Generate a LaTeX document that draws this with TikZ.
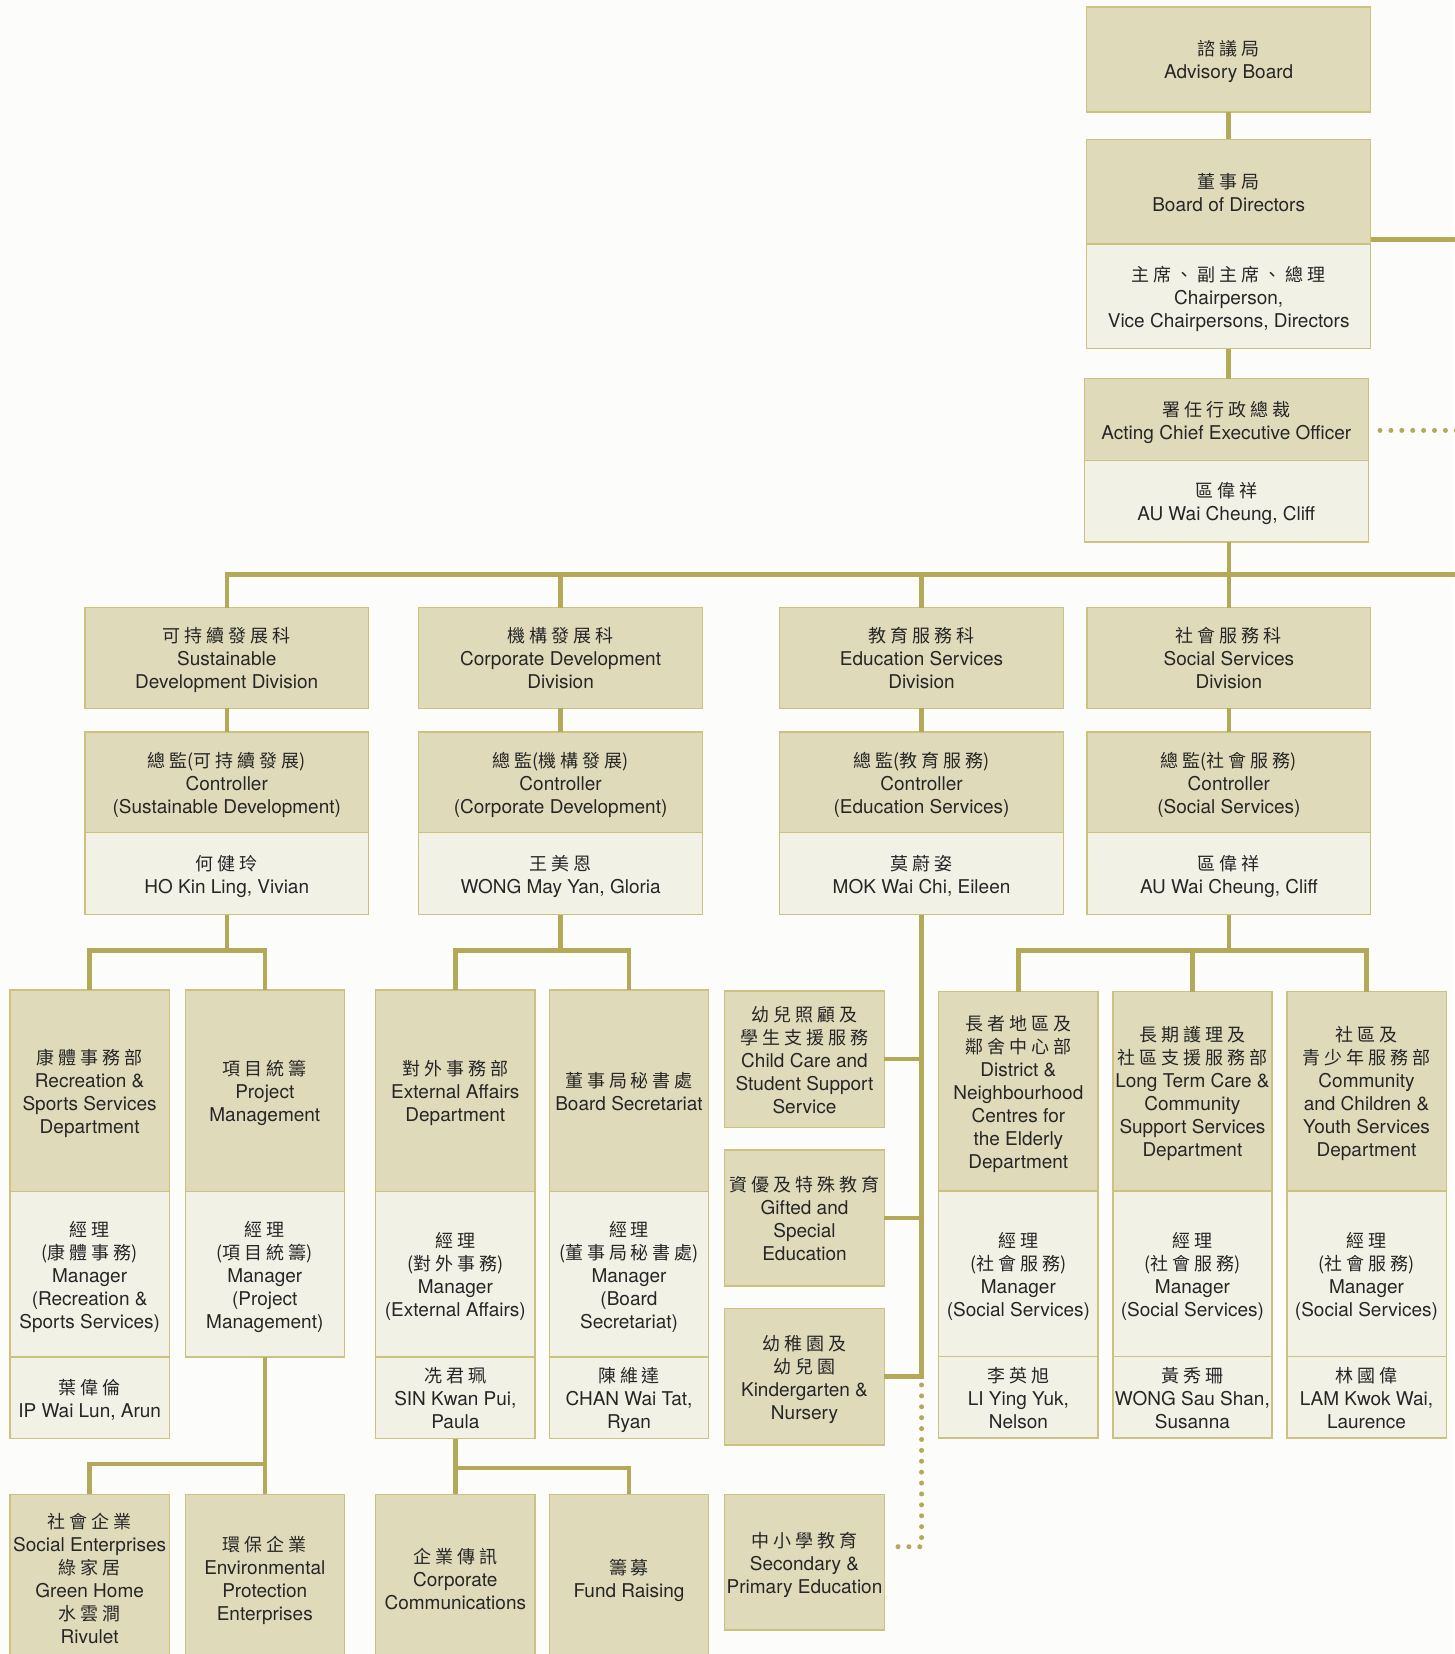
\documentclass[tikz,border=0pt]{standalone}
\usepackage{fontspec}
\setmainfont{TeX Gyre Heros}
\newfontfamily\cjkfam[LetterSpace=22]{Noto Sans CJK TC}
\newfontfamily\cjkplain{Noto Sans CJK TC}
\newcommand\ch[1]{{\cjkfam\fontsize{18}{23}\selectfont #1}}
\newcommand\chp[1]{{\cjkplain\fontsize{18}{23}\selectfont(\ch{#1})}}
\newcommand\enfont{\fontsize{19}{23}\selectfont}
\newcommand\tb[1]{\raisebox{-3.4pt}[\height][\depth]{\begin{tabular}{@{}c@{}}#1\end{tabular}}}
\definecolor{dkfill}{HTML}{DFDBBA}
\definecolor{ltfill}{HTML}{F2F1E6}
\definecolor{bord}{HTML}{CCC280}
\definecolor{linecol}{HTML}{B4A958}
\definecolor{txt}{HTML}{262626}
\definecolor{bgcol}{HTML}{FCFCFA}
\tikzset{
  bx/.style n args={2}{draw=bord, line width=1.4pt, inner sep=0pt, outer sep=0pt,
    anchor=north west, font=\enfont, text=txt,
    minimum width=#1, minimum height=#2},
  dk/.style 2 args={bx={#1}{#2}, fill=dkfill},
  lt/.style 2 args={bx={#1}{#2}, fill=ltfill},
  lnk/.style={draw=linecol, line width=4.5pt},
  dots/.style={draw=linecol, line width=5pt, line cap=round, dash pattern=on 0pt off 10.9pt},
}
\begin{document}
\begin{tikzpicture}[x=1pt,y=-1pt]
\fill[bgcol] (0,0) rectangle (1454,1654);
\useasboundingbox (0,0) rectangle (1454,1654);

% top chain
\node[dk={284pt}{104.7pt}] (adv) at (1086.7,7.1) {\tb{\ch{諮議局}\\Advisory Board}};
\node[dk={284pt}{104.6pt}] (bod) at (1086.7,139.3) {\tb{\ch{董事局}\\Board of Directors}};
\node[lt={284pt}{104.7pt}] (bodp) at (1086.7,243.9) {\tb{\ch{主席、副主席、總理}\\Chairperson,\\Vice Chairpersons, Directors}};
\node[dk={284pt}{82.1pt}] (aceo) at (1084.3,378.6) {\tb{\ch{署任行政總裁}\\Acting Chief Executive Officer}};
\node[lt={284pt}{81.4pt}] (aceon) at (1084.3,460.7) {\tb{\ch{區偉祥}\\AU Wai Cheung, Cliff}};

% divisions
\node[dk={283.5pt}{100.8pt}] (sd) at (85,607.5) {\tb{\ch{可持續發展科}\\Sustainable\\Development Division}};
\node[dk={283.5pt}{100.7pt}] (sdc) at (85,732) {\tb{\ch{總監}\chp{可持續發展}\\Controller\\(Sustainable Development)}};
\node[lt={283.5pt}{81.8pt}] (sdn) at (85,832.7) {\tb{\ch{何健玲}\\HO Kin Ling, Vivian}};

\node[dk={283.8pt}{100.8pt}] (cd) at (418.7,607.5) {\tb{\ch{機構發展科}\\Corporate Development\\Division}};
\node[dk={283.8pt}{100.7pt}] (cdc) at (418.7,732) {\tb{\ch{總監}\chp{機構發展}\\Controller\\(Corporate Development)}};
\node[lt={283.8pt}{81.8pt}] (cdn) at (418.7,832.7) {\tb{\ch{王美恩}\\WONG May Yan, Gloria}};

\node[dk={284.1pt}{100.8pt}] (ed) at (779.5,607.5) {\tb{\ch{教育服務科}\\Education Services\\Division}};
\node[dk={284.1pt}{100.7pt}] (edc) at (779.5,732) {\tb{\ch{總監}\chp{教育服務}\\Controller\\(Education Services)}};
\node[lt={284.1pt}{81.8pt}] (edn) at (779.5,832.7) {\tb{\ch{莫蔚姿}\\MOK Wai Chi, Eileen}};

\node[dk={283.7pt}{100.8pt}] (ss) at (1087,607.5) {\tb{\ch{社會服務科}\\Social Services\\Division}};
\node[dk={283.7pt}{100.7pt}] (ssc) at (1087,732) {\tb{\ch{總監}\chp{社會服務}\\Controller\\(Social Services)}};
\node[lt={283.7pt}{81.8pt}] (ssn) at (1087,832.7) {\tb{\ch{區偉祥}\\AU Wai Cheung, Cliff}};

% departments, left
\node[dk={159.3pt}{201.5pt}] (rec) at (10,990) {\tb{\ch{康體事務部}\\Recreation \&\\Sports Services\\Department}};
\node[lt={159.3pt}{165.5pt}] (recm) at (10,1191.5) {\tb{\ch{經理}\\\chp{康體事務}\\Manager\\(Recreation \&\\Sports Services)}};
\node[lt={159.3pt}{81.5pt}] (recn) at (10,1357) {\tb{\ch{葉偉倫}\\IP Wai Lun, Arun}};

\node[dk={159pt}{201.5pt}] (proj) at (185.3,990) {\tb{\ch{項目統籌}\\Project\\Management}};
\node[lt={159pt}{165.5pt}] (projm) at (185.3,1191.5) {\tb{\ch{經理}\\\chp{項目統籌}\\Manager\\(Project\\Management)}};

\node[dk={159.3pt}{201.5pt}] (ext) at (375.7,990) {\tb{\ch{對外事務部}\\External Affairs\\Department}};
\node[lt={159.3pt}{165.5pt}] (extm) at (375.7,1191.5) {\tb{\ch{經理}\\\chp{對外事務}\\Manager\\(External Affairs)}};
\node[lt={159.3pt}{81.5pt}] (extn) at (375.7,1357) {\tb{\ch{冼君珮}\\SIN Kwan Pui,\\Paula}};

\node[dk={159.4pt}{201.5pt}] (bsec) at (549.3,990) {\tb{\ch{董事局秘書處}\\Board Secretariat}};
\node[lt={159.4pt}{165.5pt}] (bsecm) at (549.3,1191.5) {\tb{\ch{經理}\\\chp{董事局秘書處}\\Manager\\(Board\\Secretariat)}};
\node[lt={159.4pt}{81.5pt}] (bsecn) at (549.3,1357) {\tb{\ch{陳維達}\\CHAN Wai Tat,\\Ryan}};

% education services
\node[dk={159.6pt}{136.3pt}] (cc) at (724.7,991) {\tb{\ch{幼兒照顧及}\\\ch{學生支援服務}\\Child Care and\\Student Support\\Service}};
\node[dk={159.6pt}{136pt}] (gift) at (724.7,1150) {\tb{\ch{資優及特殊教育}\\Gifted and\\Special\\Education}};
\node[dk={159.6pt}{136.7pt}] (kg) at (724.7,1308.3) {\tb{\ch{幼稚園及}\\\ch{幼兒園}\\Kindergarten \&\\Nursery}};
\node[dk={159.6pt}{135.7pt}] (sec) at (724.7,1494.3) {\tb{\ch{中小學教育}\\Secondary \&\\Primary Education}};

% social services departments
\node[dk={159.3pt}{199.5pt}] (dist) at (938.7,991.5) {\tb{\ch{長者地區及}\\\ch{鄰舍中心部}\\District \&\\Neighbourhood\\Centres for\\the Elderly\\Department}};
\node[lt={159.3pt}{165.5pt}] (distm) at (938.7,1191) {\tb{\ch{經理}\\\chp{社會服務}\\Manager\\(Social Services)}};
\node[lt={159.3pt}{81.5pt}] (distn) at (938.7,1356.5) {\tb{\ch{李英旭}\\LI Ying Yuk,\\Nelson}};

\node[dk={158.8pt}{199.5pt}] (ltc) at (1113,991.5) {\tb{\ch{長期護理及}\\\ch{社區支援服務部}\\Long Term Care \&\\Community\\Support Services\\Department}};
\node[lt={158.8pt}{165.5pt}] (ltcm) at (1113,1191) {\tb{\ch{經理}\\\chp{社會服務}\\Manager\\(Social Services)}};
\node[lt={158.8pt}{81.5pt}] (ltcn) at (1113,1356.5) {\tb{\ch{黃秀珊}\\WONG Sau Shan,\\Susanna}};

\node[dk={159.4pt}{199.5pt}] (comm) at (1286.8,991.5) {\tb{\ch{社區及}\\\ch{青少年服務部}\\Community\\and Children \&\\Youth Services\\Department}};
\node[lt={159.4pt}{165.5pt}] (commm) at (1286.8,1191) {\tb{\ch{經理}\\\chp{社會服務}\\Manager\\(Social Services)}};
\node[lt={159.4pt}{81.5pt}] (commn) at (1286.8,1356.5) {\tb{\ch{林國偉}\\LAM Kwok Wai,\\Laurence}};

% bottom row
\node[dk={159.3pt}{167.7pt}] (se) at (10,1494.3) {\tb{\ch{社會企業}\\Social Enterprises\\\ch{綠家居}\\Green Home\\\ch{水雲澗}\\Rivulet}};
\node[dk={159pt}{167.7pt}] (env) at (185.3,1494.3) {\tb{\ch{環保企業}\\Environmental\\Protection\\Enterprises}};
\node[dk={159.3pt}{167.7pt}] (ccom) at (375.7,1494.3) {\tb{\ch{企業傳訊}\\Corporate\\Communications}};
\node[dk={159.4pt}{167.7pt}] (fund) at (549.3,1494.3) {\tb{\ch{籌募}\\Fund Raising}};

% connectors
\coordinate (busE) at (1460,574.3);
\coordinate (bodE) at (1460,239.3);
\coordinate (aceoE) at (1460,430.4);
\coordinate (b1) at (0,950.5);
\coordinate (b2) at (0,1464);
\coordinate (b3) at (0,1468);
\coordinate (secd) at (0,1546.7);

\draw[lnk] (adv.south) -- (bod.north);
\draw[lnk] (bodp.south) -- (bodp.south |- aceo.north);
\draw[lnk] (bod.east |- bodE) -- (bodE);
\draw[dots, shorten <=11.7pt] (aceo.east |- aceoE) -- (aceoE);
\draw[lnk] (ss.north |- aceon.south) -- (ss.north);
\draw[lnk] (sd.north) |- (busE);
\draw[lnk] (cd.north) -- (cd.north |- busE);
\draw[lnk] (ed.north) -- (ed.north |- busE);

\draw[lnk] (sd.south) -- (sdc.north);
\draw[lnk] (cd.south) -- (cdc.north);
\draw[lnk] (ed.south) -- (edc.north);
\draw[lnk] (ss.south) -- (ssc.north);

\draw[lnk] (sdn.south) -- (sdn.south |- b1);
\draw[lnk] (rec.north) |- (proj.north |- b1) -- (proj.north);
\draw[lnk] (cdn.south) -- (cdn.south |- b1);
\draw[lnk] (ext.north) |- (bsec.north |- b1) -- (bsec.north);
\draw[lnk] (ssn.south) -- (ssn.south |- b1);
\draw[lnk] (dist.north) |- (comm.north |- b1) -- (comm.north);
\draw[lnk] (ltc.north) -- (ltc.north |- b1);

\draw[lnk] (edn.south) |- (kg.east);
\draw[lnk] (cc.east) -- (cc.east -| edn.south);
\draw[lnk] (gift.east) -- (gift.east -| edn.south);
\draw[dots, shorten <=8.3pt, shorten >=7.4pt] (kg.east -| edn.south) -- (edn.south |- secd) -- (sec.east |- secd);

\draw[lnk] (projm.south) -- (env.north);
\draw[lnk] (se.north) |- (env.north |- b2);
\draw[lnk] (extn.south) -- (ccom.north);
\draw[lnk] (fund.north) |- (ccom.north |- b3);
\end{tikzpicture}
\end{document}
